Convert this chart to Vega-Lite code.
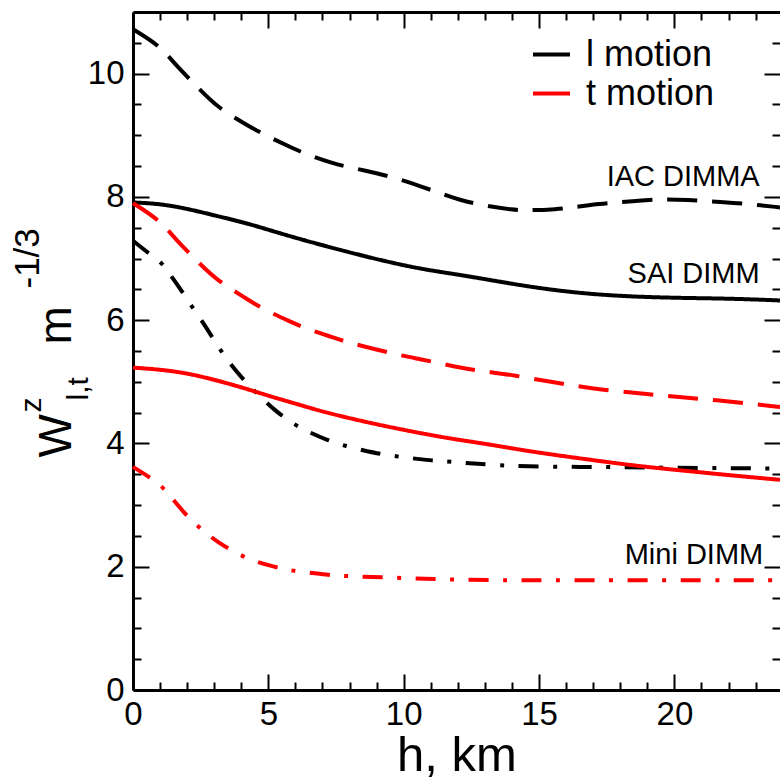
{
"$schema": "https://vega.github.io/schema/vega-lite/v6.json",
"width": 647, "height": 678,
"autosize": {"type": "none"},
"padding": {"left": 133, "top": 12, "right": 0, "bottom": 90},
"background": "white",
"config": {"font": "Liberation Sans", "view": {"stroke": null},
  "axis": {"grid": false, "labelFlush": false, "labelOverlap": false, "domainColor": "black", "tickColor": "black", "labelColor": "black", "titleColor": "black", "titleFontWeight": "normal"}},
"datasets": {
"curves": [
{"inst":"IAC DIMMA","motion":"l motion","h":0,"v":10.72},{"inst":"IAC DIMMA","motion":"l motion","h":1.0,"v":10.45},{"inst":"IAC DIMMA","motion":"l motion","h":1.55,"v":10.15},{"inst":"IAC DIMMA","motion":"l motion","h":2.5,"v":9.73},{"inst":"IAC DIMMA","motion":"l motion","h":3.1,"v":9.46},{"inst":"IAC DIMMA","motion":"l motion","h":4.15,"v":9.18},{"inst":"IAC DIMMA","motion":"l motion","h":4.8,"v":9.02},{"inst":"IAC DIMMA","motion":"l motion","h":5.8,"v":8.81},{"inst":"IAC DIMMA","motion":"l motion","h":6.4,"v":8.69},{"inst":"IAC DIMMA","motion":"l motion","h":7.4,"v":8.54},{"inst":"IAC DIMMA","motion":"l motion","h":8.0,"v":8.48},{"inst":"IAC DIMMA","motion":"l motion","h":9.05,"v":8.38},{"inst":"IAC DIMMA","motion":"l motion","h":9.75,"v":8.3},{"inst":"IAC DIMMA","motion":"l motion","h":10.7,"v":8.16},{"inst":"IAC DIMMA","motion":"l motion","h":11.35,"v":8.06},{"inst":"IAC DIMMA","motion":"l motion","h":12.05,"v":7.95},{"inst":"IAC DIMMA","motion":"l motion","h":12.95,"v":7.86},{"inst":"IAC DIMMA","motion":"l motion","h":14.05,"v":7.79},{"inst":"IAC DIMMA","motion":"l motion","h":14.6,"v":7.78},{"inst":"IAC DIMMA","motion":"l motion","h":15.65,"v":7.8},{"inst":"IAC DIMMA","motion":"l motion","h":16.25,"v":7.83},{"inst":"IAC DIMMA","motion":"l motion","h":17.3,"v":7.89},{"inst":"IAC DIMMA","motion":"l motion","h":17.9,"v":7.91},{"inst":"IAC DIMMA","motion":"l motion","h":19.0,"v":7.95},{"inst":"IAC DIMMA","motion":"l motion","h":19.6,"v":7.96},{"inst":"IAC DIMMA","motion":"l motion","h":20.55,"v":7.95},{"inst":"IAC DIMMA","motion":"l motion","h":21.2,"v":7.93},{"inst":"IAC DIMMA","motion":"l motion","h":22.25,"v":7.9},{"inst":"IAC DIMMA","motion":"l motion","h":22.85,"v":7.88},{"inst":"IAC DIMMA","motion":"l motion","h":23.9,"v":7.83},
{"inst":"SAI DIMM","motion":"l motion","h":0,"v":7.91},{"inst":"SAI DIMM","motion":"l motion","h":1.0,"v":7.89},{"inst":"SAI DIMM","motion":"l motion","h":2.1,"v":7.8},{"inst":"SAI DIMM","motion":"l motion","h":3.1,"v":7.69},{"inst":"SAI DIMM","motion":"l motion","h":4.15,"v":7.58},{"inst":"SAI DIMM","motion":"l motion","h":5.05,"v":7.46},{"inst":"SAI DIMM","motion":"l motion","h":6.05,"v":7.33},{"inst":"SAI DIMM","motion":"l motion","h":7.05,"v":7.21},{"inst":"SAI DIMM","motion":"l motion","h":8.0,"v":7.1},{"inst":"SAI DIMM","motion":"l motion","h":9.0,"v":6.99},{"inst":"SAI DIMM","motion":"l motion","h":10.1,"v":6.88},{"inst":"SAI DIMM","motion":"l motion","h":10.95,"v":6.81},{"inst":"SAI DIMM","motion":"l motion","h":12.0,"v":6.74},{"inst":"SAI DIMM","motion":"l motion","h":12.95,"v":6.67},{"inst":"SAI DIMM","motion":"l motion","h":14.8,"v":6.53},{"inst":"SAI DIMM","motion":"l motion","h":16.65,"v":6.43},{"inst":"SAI DIMM","motion":"l motion","h":18.5,"v":6.38},{"inst":"SAI DIMM","motion":"l motion","h":20.3,"v":6.36},{"inst":"SAI DIMM","motion":"l motion","h":22.15,"v":6.35},{"inst":"SAI DIMM","motion":"l motion","h":23.9,"v":6.32},
{"inst":"Mini DIMM","motion":"l motion","h":0,"v":7.29},{"inst":"Mini DIMM","motion":"l motion","h":0.62,"v":7.07},{"inst":"Mini DIMM","motion":"l motion","h":1.0,"v":6.96},{"inst":"Mini DIMM","motion":"l motion","h":1.22,"v":6.83},{"inst":"Mini DIMM","motion":"l motion","h":1.7,"v":6.54},{"inst":"Mini DIMM","motion":"l motion","h":2.13,"v":6.25},{"inst":"Mini DIMM","motion":"l motion","h":2.62,"v":5.94},{"inst":"Mini DIMM","motion":"l motion","h":3.0,"v":5.67},{"inst":"Mini DIMM","motion":"l motion","h":3.45,"v":5.37},{"inst":"Mini DIMM","motion":"l motion","h":4.0,"v":5.07},{"inst":"Mini DIMM","motion":"l motion","h":4.6,"v":4.8},{"inst":"Mini DIMM","motion":"l motion","h":5.2,"v":4.55},{"inst":"Mini DIMM","motion":"l motion","h":5.9,"v":4.32},{"inst":"Mini DIMM","motion":"l motion","h":6.55,"v":4.17},{"inst":"Mini DIMM","motion":"l motion","h":7.15,"v":4.06},{"inst":"Mini DIMM","motion":"l motion","h":7.9,"v":3.95},{"inst":"Mini DIMM","motion":"l motion","h":8.5,"v":3.89},{"inst":"Mini DIMM","motion":"l motion","h":9.1,"v":3.83},{"inst":"Mini DIMM","motion":"l motion","h":9.9,"v":3.78},{"inst":"Mini DIMM","motion":"l motion","h":10.5,"v":3.75},{"inst":"Mini DIMM","motion":"l motion","h":11.1,"v":3.72},{"inst":"Mini DIMM","motion":"l motion","h":11.85,"v":3.7},{"inst":"Mini DIMM","motion":"l motion","h":13.55,"v":3.64},{"inst":"Mini DIMM","motion":"l motion","h":15.4,"v":3.62},{"inst":"Mini DIMM","motion":"l motion","h":17.25,"v":3.62},{"inst":"Mini DIMM","motion":"l motion","h":19.1,"v":3.61},{"inst":"Mini DIMM","motion":"l motion","h":20.95,"v":3.6},{"inst":"Mini DIMM","motion":"l motion","h":22.8,"v":3.6},{"inst":"Mini DIMM","motion":"l motion","h":23.9,"v":3.59},
{"inst":"IAC DIMMA","motion":"t motion","h":0,"v":7.9},{"inst":"IAC DIMMA","motion":"t motion","h":1.0,"v":7.62},{"inst":"IAC DIMMA","motion":"t motion","h":1.55,"v":7.32},{"inst":"IAC DIMMA","motion":"t motion","h":2.5,"v":6.9},{"inst":"IAC DIMMA","motion":"t motion","h":3.1,"v":6.65},{"inst":"IAC DIMMA","motion":"t motion","h":4.15,"v":6.36},{"inst":"IAC DIMMA","motion":"t motion","h":4.8,"v":6.18},{"inst":"IAC DIMMA","motion":"t motion","h":5.8,"v":5.98},{"inst":"IAC DIMMA","motion":"t motion","h":6.4,"v":5.86},{"inst":"IAC DIMMA","motion":"t motion","h":7.4,"v":5.72},{"inst":"IAC DIMMA","motion":"t motion","h":8.0,"v":5.63},{"inst":"IAC DIMMA","motion":"t motion","h":9.05,"v":5.52},{"inst":"IAC DIMMA","motion":"t motion","h":9.75,"v":5.44},{"inst":"IAC DIMMA","motion":"t motion","h":10.7,"v":5.36},{"inst":"IAC DIMMA","motion":"t motion","h":11.35,"v":5.3},{"inst":"IAC DIMMA","motion":"t motion","h":12.05,"v":5.23},{"inst":"IAC DIMMA","motion":"t motion","h":12.95,"v":5.17},{"inst":"IAC DIMMA","motion":"t motion","h":14.05,"v":5.11},{"inst":"IAC DIMMA","motion":"t motion","h":15.65,"v":4.98},{"inst":"IAC DIMMA","motion":"t motion","h":17.3,"v":4.87},{"inst":"IAC DIMMA","motion":"t motion","h":19.0,"v":4.8},{"inst":"IAC DIMMA","motion":"t motion","h":20.55,"v":4.74},{"inst":"IAC DIMMA","motion":"t motion","h":22.3,"v":4.67},{"inst":"IAC DIMMA","motion":"t motion","h":23.9,"v":4.59},
{"inst":"SAI DIMM","motion":"t motion","h":0,"v":5.23},{"inst":"SAI DIMM","motion":"t motion","h":1.0,"v":5.2},{"inst":"SAI DIMM","motion":"t motion","h":2.0,"v":5.14},{"inst":"SAI DIMM","motion":"t motion","h":2.95,"v":5.04},{"inst":"SAI DIMM","motion":"t motion","h":3.95,"v":4.92},{"inst":"SAI DIMM","motion":"t motion","h":4.95,"v":4.78},{"inst":"SAI DIMM","motion":"t motion","h":6.05,"v":4.64},{"inst":"SAI DIMM","motion":"t motion","h":7.05,"v":4.51},{"inst":"SAI DIMM","motion":"t motion","h":8.0,"v":4.41},{"inst":"SAI DIMM","motion":"t motion","h":9.0,"v":4.31},{"inst":"SAI DIMM","motion":"t motion","h":10.0,"v":4.22},{"inst":"SAI DIMM","motion":"t motion","h":10.95,"v":4.14},{"inst":"SAI DIMM","motion":"t motion","h":12.0,"v":4.06},{"inst":"SAI DIMM","motion":"t motion","h":12.95,"v":4.0},{"inst":"SAI DIMM","motion":"t motion","h":14.8,"v":3.86},{"inst":"SAI DIMM","motion":"t motion","h":16.65,"v":3.75},{"inst":"SAI DIMM","motion":"t motion","h":18.5,"v":3.64},{"inst":"SAI DIMM","motion":"t motion","h":20.3,"v":3.56},{"inst":"SAI DIMM","motion":"t motion","h":22.15,"v":3.48},{"inst":"SAI DIMM","motion":"t motion","h":23.9,"v":3.41},
{"inst":"Mini DIMM","motion":"t motion","h":0,"v":3.62},{"inst":"Mini DIMM","motion":"t motion","h":0.62,"v":3.45},{"inst":"Mini DIMM","motion":"t motion","h":1.0,"v":3.33},{"inst":"Mini DIMM","motion":"t motion","h":1.3,"v":3.19},{"inst":"Mini DIMM","motion":"t motion","h":1.85,"v":2.89},{"inst":"Mini DIMM","motion":"t motion","h":2.47,"v":2.62},{"inst":"Mini DIMM","motion":"t motion","h":3.15,"v":2.39},{"inst":"Mini DIMM","motion":"t motion","h":3.83,"v":2.22},{"inst":"Mini DIMM","motion":"t motion","h":4.45,"v":2.09},{"inst":"Mini DIMM","motion":"t motion","h":5.2,"v":2.0},{"inst":"Mini DIMM","motion":"t motion","h":5.8,"v":1.94},{"inst":"Mini DIMM","motion":"t motion","h":6.4,"v":1.91},{"inst":"Mini DIMM","motion":"t motion","h":7.15,"v":1.87},{"inst":"Mini DIMM","motion":"t motion","h":7.75,"v":1.85},{"inst":"Mini DIMM","motion":"t motion","h":8.4,"v":1.84},{"inst":"Mini DIMM","motion":"t motion","h":9.1,"v":1.83},{"inst":"Mini DIMM","motion":"t motion","h":10.5,"v":1.81},{"inst":"Mini DIMM","motion":"t motion","h":11.7,"v":1.79},{"inst":"Mini DIMM","motion":"t motion","h":13.55,"v":1.78},{"inst":"Mini DIMM","motion":"t motion","h":16.0,"v":1.78},{"inst":"Mini DIMM","motion":"t motion","h":20.0,"v":1.78},{"inst":"Mini DIMM","motion":"t motion","h":23.9,"v":1.78}
],
"labels": [
{"text":"IAC DIMMA","h":23.15,"v":8.18},
{"text":"SAI DIMM","h":23.15,"v":6.61},
{"text":"Mini DIMM","h":23.28,"v":2.04}
]
},
"resolve": {"axis": {"x": "independent", "y": "independent"}},
"layer": [
{
 "data": {"name": "curves"},
 "mark": {"type": "line", "strokeWidth": 4, "interpolate": "basis", "strokeCap": "butt"},
 "encoding": {
  "x": {"field": "h", "type": "quantitative", "scale": {"domain": [0, 23.9], "nice": false, "zero": false},
        "axis": {"orient": "bottom", "values": [0,5,10,15,20], "ticks": false, "domain": false, "labelFontSize": 33, "labelPadding": 8, "title": "h, km", "titleFontSize": 49, "titlePadding": 0}},
  "y": {"field": "v", "type": "quantitative", "scale": {"domain": [0, 11], "nice": false, "zero": false},
        "axis": {"orient": "left", "values": [0,2,4,6,8,10], "ticks": false, "domain": false, "labelFontSize": 33, "labelPadding": 9,
                 "title": "W", "titleFontSize": 46, "titleAngle": -90, "titleX": -63, "titleY": 445, "titleAlign": "left", "titleBaseline": "alphabetic"}},
  "color": {"field": "motion", "type": "nominal", "scale": {"domain": ["l motion", "t motion"], "range": ["#000000", "#ff0000"]},
            "legend": {"title": null, "orient": "none", "legendX": 398, "legendY": 22, "symbolType": "stroke", "symbolStrokeWidth": 4, "symbolSize": 1369, "labelFontSize": 36, "labelOffset": 14, "rowPadding": 0, "padding": 0, "labelLimit": 400, "labelColor": "black"}},
  "strokeDash": {"field": "inst", "type": "nominal", "scale": {"domain": ["IAC DIMMA", "SAI DIMM", "Mini DIMM"], "range": [[30, 15], [1, 0], [20, 14.5, 4, 14.5]]}, "legend": null}
 }
},
{
 "data": {"name": "labels"},
 "mark": {"type": "text", "align": "right", "baseline": "alphabetic", "fontSize": 29, "color": "black"},
 "encoding": {
  "x": {"field": "h", "type": "quantitative", "scale": {"domain": [0, 23.9], "nice": false, "zero": false},
        "axis": {"orient": "bottom", "values": [0,5,10,15,20], "labels": false, "tickSize": -16, "tickWidth": 2, "domain": true, "domainWidth": 3, "title": null}},
  "y": {"field": "v", "type": "quantitative", "scale": {"domain": [0, 11], "nice": false, "zero": false},
        "axis": {"orient": "left", "values": [0,2,4,6,8,10], "labels": false, "tickSize": -16, "tickWidth": 2, "domain": true, "domainWidth": 3, "title": null}},
  "text": {"field": "text"}
 }
},
{
 "data": {"name": "labels"},
 "mark": {"type": "point", "opacity": 0},
 "encoding": {
  "x": {"field": "h", "type": "quantitative", "scale": {"domain": [0, 23.9], "nice": false, "zero": false},
        "axis": {"orient": "bottom", "values": [1,2,3,4,6,7,8,9,11,12,13,14,16,17,18,19,21,22,23], "labels": false, "tickSize": -8, "tickWidth": 2, "domain": false, "title": null}},
  "y": {"field": "v", "type": "quantitative", "scale": {"domain": [0, 11], "nice": false, "zero": false},
        "axis": {"orient": "left", "values": [0.5,1,1.5,2.5,3,3.5,4.5,5,5.5,6.5,7,7.5,8.5,9,9.5,10.5], "labels": false, "tickSize": -8, "tickWidth": 2, "domain": false,
                 "title": "z", "titleFontSize": 30, "titleAngle": -90, "titleX": -93, "titleY": 400, "titleAlign": "left", "titleBaseline": "alphabetic"}}
 }
},
{
 "data": {"name": "labels"},
 "mark": {"type": "point", "opacity": 0},
 "encoding": {
  "x": {"field": "h", "type": "quantitative", "scale": {"domain": [0, 23.9], "nice": false, "zero": false},
        "axis": {"orient": "top", "values": [0,5,10,15,20], "labels": false, "tickSize": -16, "tickWidth": 2, "domain": true, "domainWidth": 3, "title": null}},
  "y": {"field": "v", "type": "quantitative", "scale": {"domain": [0, 11], "nice": false, "zero": false},
        "axis": {"orient": "right", "values": [0,2,4,6,8,10], "labels": false, "tickSize": -16, "tickWidth": 2, "domain": false, "title": null}}
 }
},
{
 "data": {"name": "labels"},
 "mark": {"type": "point", "opacity": 0},
 "encoding": {
  "x": {"field": "h", "type": "quantitative", "scale": {"domain": [0, 23.9], "nice": false, "zero": false},
        "axis": {"orient": "top", "values": [1,2,3,4,6,7,8,9,11,12,13,14,16,17,18,19,21,22,23], "labels": false, "tickSize": -8, "tickWidth": 2, "domain": false, "title": null}},
  "y": {"field": "v", "type": "quantitative", "scale": {"domain": [0, 11], "nice": false, "zero": false},
        "axis": {"orient": "right", "values": [0.5,1,1.5,2.5,3,3.5,4.5,5,5.5,6.5,7,7.5,8.5,9,9.5,10.5], "labels": false, "tickSize": -8, "tickWidth": 2, "domain": false, "title": null}}
 }
},
{
 "data": {"name": "labels"},
 "mark": {"type": "point", "opacity": 0},
 "encoding": {
  "x": {"field": "h", "type": "quantitative", "scale": {"domain": [0, 23.9], "nice": false, "zero": false}, "axis": null},
  "y": {"field": "v", "type": "quantitative", "scale": {"domain": [0, 11], "nice": false, "zero": false},
        "axis": {"orient": "left", "labels": false, "ticks": false, "domain": false,
                 "title": "l,t", "titleFontSize": 30, "titleAngle": -90, "titleX": -46, "titleY": 388, "titleAlign": "left", "titleBaseline": "alphabetic"}}
 }
},
{
 "data": {"name": "labels"},
 "mark": {"type": "point", "opacity": 0},
 "encoding": {
  "x": {"field": "h", "type": "quantitative", "scale": {"domain": [0, 23.9], "nice": false, "zero": false}, "axis": null},
  "y": {"field": "v", "type": "quantitative", "scale": {"domain": [0, 11], "nice": false, "zero": false},
        "axis": {"orient": "left", "labels": false, "ticks": false, "domain": false,
                 "title": "m", "titleFontSize": 46, "titleAngle": -90, "titleX": -63, "titleY": 332, "titleAlign": "left", "titleBaseline": "alphabetic"}}
 }
},
{
 "data": {"name": "labels"},
 "mark": {"type": "point", "opacity": 0},
 "encoding": {
  "x": {"field": "h", "type": "quantitative", "scale": {"domain": [0, 23.9], "nice": false, "zero": false}, "axis": null},
  "y": {"field": "v", "type": "quantitative", "scale": {"domain": [0, 11], "nice": false, "zero": false},
        "axis": {"orient": "left", "labels": false, "ticks": false, "domain": false,
                 "title": "-1/3", "titleFontSize": 35, "titleAngle": -90, "titleX": -95, "titleY": 276, "titleAlign": "left", "titleBaseline": "alphabetic"}}
 }
}
]
}
